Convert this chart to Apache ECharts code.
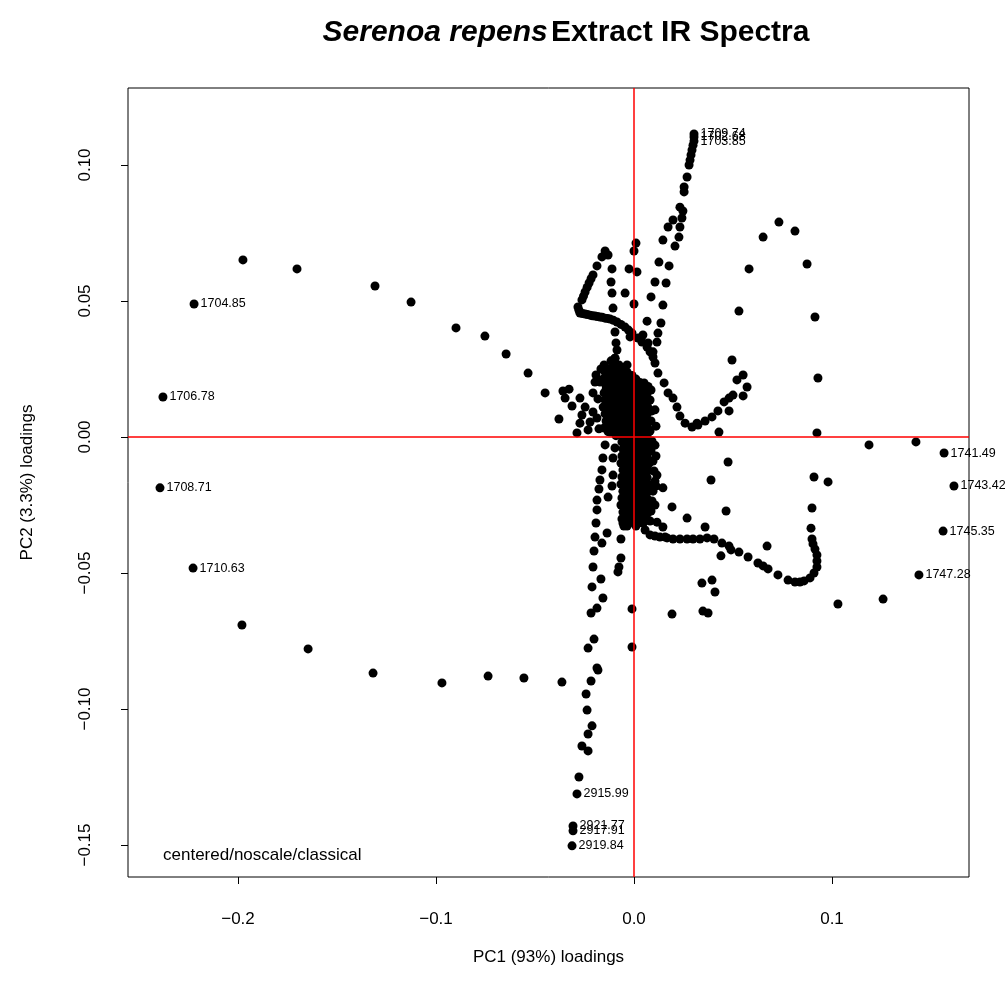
<!DOCTYPE html>
<html>
<head>
<meta charset="utf-8">
<script src="https://cdn.jsdelivr.net/npm/echarts@6/dist/echarts.min.js"></script>
<style>
  html, body { margin: 0; padding: 0; background: #ffffff; }
  #chart { width: 1005px; height: 998px; }
</style>
</head>
<body>
<div id="chart"></div>
<script>
// Axis ticks
const pc1Ticks = [-0.2, -0.1, 0.0, 0.1];
const pc2Ticks = [-0.15, -0.10, -0.05, 0.00, 0.05, 0.10];

// Wavenumbers that carry a text label, with their PC1 / PC2 loadings
const labelNames = ['1709.74', '1702.68', '1703.85',
  '1704.85', '1706.78', '1708.71', '1710.63',
  '1741.49', '1743.42', '1745.35', '1747.28',
  '2915.99', '2921.77', '2917.91', '2919.84'];
const labelPC1 = [0.0303, 0.0303, 0.0303,
  -0.2222, -0.2379, -0.2394, -0.2227,
  0.1566, 0.1616, 0.1561, 0.1439,
  -0.0288, -0.0308, -0.0308, -0.0313];
const labelPC2 = [0.1114, 0.1103, 0.1088,
  0.0489, 0.0147, -0.0187, -0.0482,
  -0.0059, -0.0180, -0.0346, -0.0507,
  -0.1312, -0.1430, -0.1448, -0.1503];

// Unlabelled loadings, grouped by the band of the spectrum they trace
const wingUpperLeft = [[-0.1975,0.0651],[-0.1702,0.0618],[-0.1308,0.0555],[-0.1126,0.0496],[-0.0899,0.0401],
  [-0.0753,0.0371],[-0.0646,0.0305],[-0.0535,0.0235],[-0.0449,0.0162],[-0.0379,0.0066]];
const wingLowerLeft = [[-0.1980,-0.0691],[-0.1646,-0.0779],[-0.1318,-0.0868],[-0.0970,-0.0904],
  [-0.0737,-0.0879],[-0.0556,-0.0886],[-0.0364,-0.0901]];
const stemLower = [[-0.0192,-0.0316],[-0.0197,-0.0368],[-0.0136,-0.0353],[-0.0162,-0.0390],[-0.0202,-0.0419],
  [-0.0207,-0.0478],[-0.0167,-0.0522],[-0.0212,-0.0551],[-0.0157,-0.0592],[-0.0187,-0.0629],[-0.0217,-0.0647],
  [-0.0202,-0.0743],[-0.0232,-0.0776],[-0.0187,-0.0849],[-0.0182,-0.0857],[-0.0217,-0.0897],[-0.0242,-0.0945],
  [-0.0237,-0.1004],[-0.0212,-0.1062],[-0.0232,-0.1092],[-0.0263,-0.1136],[-0.0232,-0.1154],[-0.0278,-0.1250],
  [-0.0056,-0.0316],[-0.0066,-0.0375],[-0.0066,-0.0445],[-0.0076,-0.0478],[-0.0081,-0.0496],
  [-0.0010,-0.0632],[-0.0010,-0.0772]];
const leftCluster = [[-0.0359,0.0169],[-0.0328,0.0176],[-0.0348,0.0143],[-0.0313,0.0114],[-0.0288,0.0015],
  [-0.0273,0.0143],[-0.0207,0.0162],[-0.0192,0.0228],[-0.0197,0.0202],[-0.0172,0.0202],[-0.0247,0.0110],
  [-0.0207,0.0092],[-0.0222,0.0055],[-0.0273,0.0051],[-0.0263,0.0081],[-0.0232,0.0026],
  [-0.0182,0.0140],[-0.0187,0.0070],[-0.0177,0.0030],[-0.0167,0.0250]];
const coreBlob = [
  [-0.0151,0.0265],[-0.0146,0.0239],[-0.0156,0.0213],[-0.0141,0.0188],[-0.0151,0.0162],[-0.0146,0.0136],
  [-0.0156,0.0110],[-0.0146,0.0085],[-0.0141,0.0059],[-0.0151,0.0033],
  [-0.0136,0.0252],[-0.0131,0.0226],[-0.0136,0.0200],[-0.0141,0.0175],[-0.0131,0.0149],[-0.0136,0.0123],
  [-0.0141,0.0097],[-0.0131,0.0072],[-0.0136,0.0046],[-0.0131,0.0020],
  [-0.0116,0.0280],[-0.0121,0.0250],[-0.0111,0.0225],[-0.0116,0.0199],[-0.0121,0.0173],[-0.0111,0.0147],
  [-0.0116,0.0121],[-0.0121,0.0096],[-0.0111,0.0070],[-0.0116,0.0044],[-0.0121,0.0018],
  [-0.0096,0.0290],[-0.0101,0.0262],[-0.0091,0.0238],[-0.0096,0.0212],[-0.0101,0.0186],[-0.0091,0.0160],
  [-0.0096,0.0134],[-0.0101,0.0108],[-0.0091,0.0083],[-0.0096,0.0057],[-0.0101,0.0031],[-0.0091,0.0005],
  [-0.0076,0.0265],[-0.0081,0.0239],[-0.0071,0.0213],[-0.0076,0.0188],[-0.0081,0.0162],[-0.0071,0.0136],
  [-0.0076,0.0110],[-0.0081,0.0085],[-0.0071,0.0059],[-0.0076,0.0033],[-0.0066,0.0007],[-0.0061,-0.0018],
  [-0.0056,-0.0044],[-0.0061,-0.0070],[-0.0066,-0.0096],[-0.0056,-0.0121],[-0.0061,-0.0147],[-0.0066,-0.0173],
  [-0.0056,-0.0199],[-0.0061,-0.0224],[-0.0066,-0.0250],[-0.0056,-0.0276],[-0.0061,-0.0301],[-0.0051,-0.0327],
  [-0.0051,0.0252],[-0.0056,0.0226],[-0.0046,0.0200],[-0.0051,0.0175],[-0.0056,0.0149],[-0.0046,0.0123],
  [-0.0051,0.0097],[-0.0056,0.0072],[-0.0046,0.0046],[-0.0051,0.0020],[-0.0046,-0.0005],[-0.0041,-0.0031],
  [-0.0046,-0.0057],[-0.0041,-0.0083],[-0.0046,-0.0109],[-0.0041,-0.0134],[-0.0046,-0.0160],[-0.0041,-0.0186],
  [-0.0046,-0.0212],[-0.0041,-0.0237],[-0.0046,-0.0263],[-0.0041,-0.0289],[-0.0046,-0.0314],
  [-0.0035,0.0239],[-0.0030,0.0213],[-0.0025,0.0188],[-0.0030,0.0162],[-0.0035,0.0136],[-0.0025,0.0110],
  [-0.0030,0.0085],[-0.0035,0.0059],[-0.0025,0.0033],[-0.0030,0.0007],[-0.0035,-0.0018],[-0.0025,-0.0044],
  [-0.0030,-0.0070],[-0.0035,-0.0096],[-0.0025,-0.0121],[-0.0030,-0.0147],[-0.0035,-0.0173],[-0.0025,-0.0199],
  [-0.0030,-0.0224],[-0.0035,-0.0250],[-0.0025,-0.0276],[-0.0030,-0.0301],[-0.0035,-0.0327],
  [-0.0010,0.0226],[-0.0015,0.0200],[-0.0005,0.0175],[-0.0010,0.0149],[-0.0015,0.0123],[-0.0005,0.0097],
  [-0.0010,0.0072],[-0.0015,0.0046],[-0.0005,0.0020],[-0.0010,-0.0005],[-0.0015,-0.0031],[-0.0005,-0.0057],
  [-0.0010,-0.0083],[-0.0015,-0.0109],[-0.0005,-0.0134],[-0.0010,-0.0160],[-0.0015,-0.0186],[-0.0005,-0.0212],
  [-0.0010,-0.0237],[-0.0015,-0.0263],[-0.0005,-0.0289],[-0.0010,-0.0314],
  [0.0010,0.0213],[0.0015,0.0188],[0.0005,0.0162],[0.0010,0.0136],[0.0015,0.0110],[0.0005,0.0085],
  [0.0010,0.0059],[0.0015,0.0033],[0.0005,0.0007],[0.0010,-0.0018],[0.0015,-0.0044],[0.0005,-0.0070],
  [0.0010,-0.0096],[0.0015,-0.0121],[0.0005,-0.0147],[0.0010,-0.0173],[0.0015,-0.0199],[0.0005,-0.0224],
  [0.0010,-0.0250],[0.0015,-0.0276],[0.0005,-0.0301],[0.0010,-0.0327],
  [0.0030,0.0200],[0.0035,0.0175],[0.0025,0.0149],[0.0030,0.0123],[0.0035,0.0097],[0.0025,0.0072],
  [0.0030,0.0046],[0.0035,0.0020],[0.0025,-0.0005],[0.0030,-0.0031],[0.0035,-0.0057],[0.0025,-0.0083],
  [0.0030,-0.0109],[0.0035,-0.0134],[0.0025,-0.0160],[0.0030,-0.0186],[0.0035,-0.0212],[0.0025,-0.0237],
  [0.0030,-0.0263],[0.0035,-0.0289],[0.0025,-0.0314],
  [0.0051,0.0199],[0.0056,0.0173],[0.0046,0.0147],[0.0051,0.0121],[0.0056,0.0096],[0.0046,0.0070],
  [0.0051,0.0044],[0.0056,0.0018],[0.0046,-0.0007],[0.0051,-0.0033],[0.0056,-0.0059],[0.0046,-0.0085],
  [0.0051,-0.0110],[0.0056,-0.0136],[0.0046,-0.0162],[0.0051,-0.0188],[0.0056,-0.0213],[0.0046,-0.0239],
  [0.0051,-0.0265],[0.0056,-0.0290],[0.0046,-0.0316],
  [0.0071,0.0186],[0.0066,0.0160],[0.0076,0.0134],[0.0071,0.0108],[0.0066,0.0083],[0.0076,0.0057],
  [0.0071,0.0031],[0.0066,0.0005],[0.0076,-0.0020],[0.0071,-0.0046],[0.0066,-0.0072],[0.0076,-0.0097],
  [0.0071,-0.0123],[0.0066,-0.0149],[0.0076,-0.0175],[0.0071,-0.0200],[0.0066,-0.0226],[0.0076,-0.0252],
  [0.0071,-0.0278],[0.0066,-0.0303],
  [0.0086,0.0173],[0.0081,0.0136],[0.0091,0.0096],[0.0086,0.0059],[0.0081,0.0022],[0.0091,-0.0015],
  [0.0086,-0.0051],[0.0096,-0.0088],[0.0101,-0.0125],[0.0106,-0.0162],[0.0096,-0.0199],[0.0091,-0.0235],
  [0.0086,-0.0272],[0.0081,-0.0309],
  [0.0106,0.0100],[0.0111,0.0040],[0.0106,-0.0030],[0.0111,-0.0070],[0.0116,-0.0140],[0.0111,-0.0180],
  [0.0106,-0.0250],
  [-0.0157,-0.0077],[-0.0162,-0.0121],[-0.0172,-0.0158],[-0.0177,-0.0191],[-0.0187,-0.0232],[-0.0187,-0.0268],
  [-0.0106,-0.0140],[-0.0111,-0.0180],[-0.0131,-0.0221],[-0.0096,-0.0040],[-0.0106,-0.0077],[-0.0146,-0.0029]];
const chainUpper = [[0.0298,0.1073],[0.0293,0.1055],[0.0288,0.1037],[0.0283,0.1018],[0.0278,0.1000],
  [0.0268,0.0956],[0.0253,0.0919],[0.0253,0.0901],[0.0232,0.0845],[0.0247,0.0831],[0.0242,0.0805],
  [0.0197,0.0798],[0.0172,0.0772],[0.0232,0.0772],[0.0227,0.0735],[0.0207,0.0702],[0.0146,0.0724],
  [0.0126,0.0643],[0.0177,0.0629],[0.0106,0.0570],[0.0162,0.0566],[0.0086,0.0515],[0.0146,0.0485],
  [0.0066,0.0426],[0.0136,0.0419],[0.0121,0.0382],[0.0116,0.0349]];
const columnCentre = [[0.0010,0.0713],[0.0000,0.0684],[-0.0025,0.0618],[0.0015,0.0607],[-0.0045,0.0529],
  [0.0000,0.0489],[-0.0020,0.0368],[-0.0035,0.0265],
  [-0.0111,0.0618],[-0.0116,0.0570],[-0.0111,0.0529],[-0.0106,0.0474],[-0.0096,0.0386],[-0.0091,0.0346],
  [-0.0086,0.0320],[-0.0096,0.0290],[-0.0096,0.0272]];
const archLeft = [[-0.0146,0.0684],[-0.0162,0.0662],[-0.0131,0.0669],[-0.0187,0.0629],[-0.0207,0.0596],
  [-0.0227,0.0566],[-0.0247,0.0533],[-0.0263,0.0504],[-0.0283,0.0478],[-0.0273,0.0456],[-0.0247,0.0452],
  [-0.0222,0.0448],[-0.0197,0.0445],[-0.0172,0.0441],[-0.0146,0.0437],[-0.0121,0.0434],[-0.0086,0.0423],
  [-0.0045,0.0404],[-0.0010,0.0382],[0.0020,0.0364],[0.0040,0.0349],[0.0066,0.0331],[0.0081,0.0313],
  [0.0096,0.0294],[-0.0217,0.0582],[-0.0237,0.0550],[-0.0255,0.0518],[-0.0278,0.0466],[-0.0260,0.0454],
  [-0.0235,0.0450],[-0.0210,0.0446],[-0.0185,0.0443],[-0.0160,0.0440],[-0.0134,0.0436],[-0.0104,0.0429],
  [-0.0066,0.0414],[-0.0028,0.0393]];
const archRight = [[0.0732,0.0790],[0.0652,0.0735],[0.0813,0.0757],[0.0581,0.0618],[0.0874,0.0636],
  [0.0530,0.0463],[0.0914,0.0441],[0.0495,0.0283],[0.0929,0.0217],
  [0.0551,0.0228],[0.0520,0.0210],[0.0571,0.0184],[0.0551,0.0151],[0.0500,0.0154],[0.0480,0.0143],
  [0.0455,0.0129],[0.0480,0.0096],[0.0424,0.0096],[0.0394,0.0074],[0.0359,0.0059],[0.0323,0.0044],
  [0.0293,0.0037],[0.0258,0.0051],[0.0232,0.0077],[0.0217,0.0110],[0.0197,0.0143],[0.0172,0.0162],
  [0.0152,0.0199],[0.0121,0.0235],[0.0106,0.0272],[0.0096,0.0313],[0.0071,0.0346],[0.0045,0.0375],
  [0.0318,0.0051]];
const hookRight = [[0.0056,-0.0342],[0.0081,-0.0360],[0.0106,-0.0364],[0.0131,-0.0368],[0.0167,-0.0371],
  [0.0197,-0.0375],[0.0232,-0.0375],[0.0268,-0.0375],[0.0298,-0.0375],[0.0333,-0.0375],[0.0369,-0.0371],
  [0.0404,-0.0375],[0.0444,-0.0390],[0.0480,-0.0401],[0.0490,-0.0415],[0.0530,-0.0423],[0.0576,-0.0441],
  [0.0626,-0.0463],[0.0652,-0.0474],[0.0677,-0.0485],[0.0727,-0.0507],[0.0778,-0.0526],[0.0813,-0.0533],
  [0.0838,-0.0533],[0.0859,-0.0529],[0.0889,-0.0518],[0.0909,-0.0500],[0.0924,-0.0478],[0.0924,-0.0456],
  [0.0924,-0.0434],[0.0914,-0.0412],[0.0904,-0.0393],[0.0899,-0.0375],[0.0894,-0.0335],[0.0899,-0.0261],
  [0.0045,-0.0316],[0.0116,-0.0313],[0.0146,-0.0331],[0.0157,-0.0368]];
const scatterRight = [[0.0192,-0.0651],[0.0343,-0.0537],[0.0394,-0.0526],[0.0409,-0.0570],[0.0348,-0.0640],
  [0.0374,-0.0647],[0.0439,-0.0437],[0.0672,-0.0401],[0.0465,-0.0272],[0.0389,-0.0158],[0.0475,-0.0092],
  [0.0429,0.0018],[0.0146,-0.0187],[0.0192,-0.0257],[0.0268,-0.0298],[0.0359,-0.0331],
  [0.0909,-0.0147],[0.0980,-0.0165],[0.0924,0.0015],[0.1187,-0.0029],[0.1424,-0.0018],
  [0.1258,-0.0596],[0.1030,-0.0614]];

const FONT = '"Liberation Sans", Arial, Helvetica, sans-serif';

function fmt(decimals) {
  return function (v) {
    const s = Math.abs(v) < 1e-9 ? (0).toFixed(decimals) : v.toFixed(decimals);
    return s.replace('-', '\u2212');
  };
}

const plainPoints = [].concat(wingUpperLeft, wingLowerLeft, stemLower, leftCluster, coreBlob,
  chainUpper, columnCentre, archLeft, archRight, hookRight, scatterRight);
const namedPoints = labelNames.map((n, i) => ({ name: n, value: [labelPC1[i], labelPC2[i]] }));

const chart = echarts.init(document.getElementById('chart'), null, { renderer: 'canvas' });
chart.setOption({
  animation: false,
  backgroundColor: '#ffffff',
  grid: {
    left: 128, right: 36, top: 88, bottom: 121,
    show: true, borderColor: '#000000', borderWidth: 1, backgroundColor: 'transparent'
  },
  xAxis: {
    type: 'value', min: -0.25556, max: 0.16919,
    axisLine: { show: false, onZero: false },
    splitLine: { show: false },
    axisTick: { show: true, customValues: pc1Ticks, length: 7, lineStyle: { color: '#000', width: 1 } },
    axisLabel: { customValues: pc1Ticks, formatter: fmt(1), margin: 34, fontSize: 17,
      color: '#000', fontFamily: FONT }
  },
  yAxis: {
    type: 'value', min: -0.16176, max: 0.12831,
    axisLine: { show: false, onZero: false },
    splitLine: { show: false },
    axisTick: { show: true, customValues: pc2Ticks, length: 7, lineStyle: { color: '#000', width: 1 } },
    axisLabel: { customValues: pc2Ticks, formatter: fmt(2), rotate: 90, margin: 34, fontSize: 17,
      color: '#000', fontFamily: FONT }
  },
  graphic: [
    { type: 'text', x: 566, y: 33, style: {
        text: '{it|Serenoa repens} {b|Extract IR Spectra}', align: 'center', verticalAlign: 'middle',
        fill: '#000',
        rich: {
          it: { fontStyle: 'italic', fontWeight: 'bold', fontSize: 30, fontFamily: FONT, fill: '#000' },
          b: { fontWeight: 'bold', fontSize: 30, fontFamily: FONT, fill: '#000' }
        } } },
    { type: 'text', x: 548.5, y: 957, style: { text: 'PC1 (93%) loadings', align: 'center',
        verticalAlign: 'middle', fontSize: 17, fontFamily: FONT, fill: '#000' } },
    { type: 'text', x: 27, y: 482.5, rotation: Math.PI / 2, style: { text: 'PC2 (3.3%) loadings',
        align: 'center', verticalAlign: 'middle', fontSize: 17, fontFamily: FONT, fill: '#000' } },
    { type: 'text', x: 163, y: 855, style: { text: 'centered/noscale/classical', align: 'left',
        verticalAlign: 'middle', fontSize: 17, fontFamily: FONT, fill: '#000' } }
  ],
  series: [
    {
      type: 'scatter', data: plainPoints, symbol: 'circle', symbolSize: 9,
      itemStyle: { color: '#000000', opacity: 1 }, silent: true
    },
    {
      type: 'scatter', data: namedPoints, symbol: 'circle', symbolSize: 9,
      itemStyle: { color: '#000000', opacity: 1 }, silent: true,
      label: { show: true, position: 'right', distance: 2, formatter: '{b}', fontSize: 12.5,
        color: '#000', fontFamily: FONT },
      markLine: {
        silent: true, symbol: ['none', 'none'], label: { show: false },
        lineStyle: { color: '#ff0000', width: 1.5, type: 'solid', opacity: 1 },
        data: [{ xAxis: 0 }, { yAxis: 0 }]
      }
    }
  ]
});
</script>
</body>
</html>
